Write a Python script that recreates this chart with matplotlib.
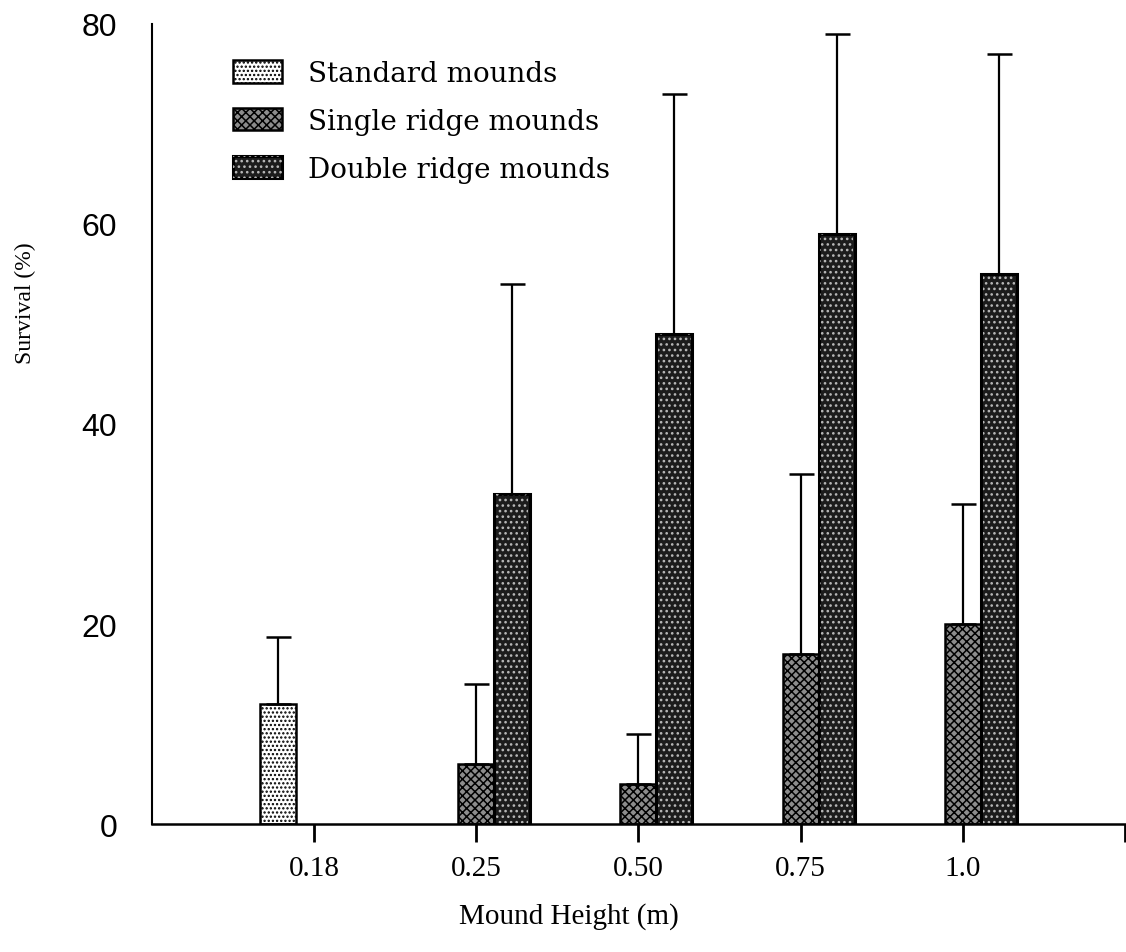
import matplotlib.pyplot as plt
import numpy as np

heights = ["0.18", "0.25", "0.50", "0.75", "1.0"]

# survival (%) and upper error per mound type, None where not tested
standard = [12, None, None, None, None]
standard_err = [6.7, None, None, None, None]
single = [None, 6, 4, 17, 20]
single_err = [None, 8, 5, 18, 12]
double = [None, 33, 49, 59, 55]
double_err = [None, 21, 24, 20, 22]

x = np.arange(1, len(heights) + 1)
w = 0.222


def pick(vals, errs):
    idx = [i for i, v in enumerate(vals) if v is not None]
    return x[idx], np.array([vals[i] for i in idx]), np.array([errs[i] for i in idx])


plt.rcParams['hatch.linewidth'] = 1.1

fig = plt.figure(figsize=(11.26, 9.53), dpi=100)
ax = fig.add_axes([0.135, 0.1343, 0.864, 0.8395])

xs, ys, es = pick(standard, standard_err)
b1 = ax.bar(xs - w, ys, w, color="white", edgecolor="black", hatch="....", lw=1.8)
ax.errorbar(xs - w, ys, yerr=[np.zeros_like(es), es], fmt="none", ecolor="black",
            elinewidth=1.6, capsize=9, capthick=1.8)

xs, ys, es = pick(single, single_err)
b2 = ax.bar(xs, ys, w, color="#8c8c8c", edgecolor="black", hatch="xxxx", lw=1.8)
ax.errorbar(xs, ys, yerr=[np.zeros_like(es), es], fmt="none", ecolor="black",
            elinewidth=1.6, capsize=9, capthick=1.8)

xs, ys, es = pick(double, double_err)
b3 = ax.bar(xs + w, ys, w, color="#1c1c1c", edgecolor="black", lw=2.2)
# white dot screen over the dark bars
dots = ax.bar(xs + w, ys, w * 0.9, fill=False, edgecolor="#b8b8b8", hatch="...", lw=0)
ax.errorbar(xs + w, ys, yerr=[np.zeros_like(es), es], fmt="none", ecolor="black",
            elinewidth=1.6, capsize=9, capthick=1.8)

ax.set_xlim(0, 6)
ax.set_ylim(0, 80)

ax.spines["top"].set_visible(False)
ax.spines["right"].set_visible(False)
ax.spines["left"].set_linewidth(1.5)
ax.spines["bottom"].set_linewidth(1.8)

ax.set_xticks(list(x) + [6])
ax.set_xticklabels(heights + [""], family="Liberation Serif", fontsize=21)
ax.tick_params(axis="x", direction="out", length=13, width=2, pad=9)

ax.set_yticks([0, 20, 40, 60, 80])
ax.set_yticklabels(["0", "20", "40", "60", "80"], family="Liberation Sans", fontsize=23)
ax.tick_params(axis="y", length=0, pad=25)

ax.set_xlabel("Mound Height (m)", family="Liberation Serif", fontsize=21)
ax.xaxis.set_label_coords(0.428, -0.097)
ax.set_ylabel("Survival (%)", family="Liberation Serif", fontsize=17)
ax.yaxis.set_label_coords(-0.119, 0.652)

ax.legend(handles=[b1, b2, (b3, dots)],
          labels=["Standard mounds", "Single ridge mounds", "Double ridge mounds"],
          loc="upper left", bbox_to_anchor=(0.058, 0.986),
          frameon=False, prop={"family": "DejaVu Serif", "size": 20},
          handlelength=1.75, handleheight=0.85, handletextpad=0.95, labelspacing=0.75)

plt.savefig("out.png", dpi=100)
